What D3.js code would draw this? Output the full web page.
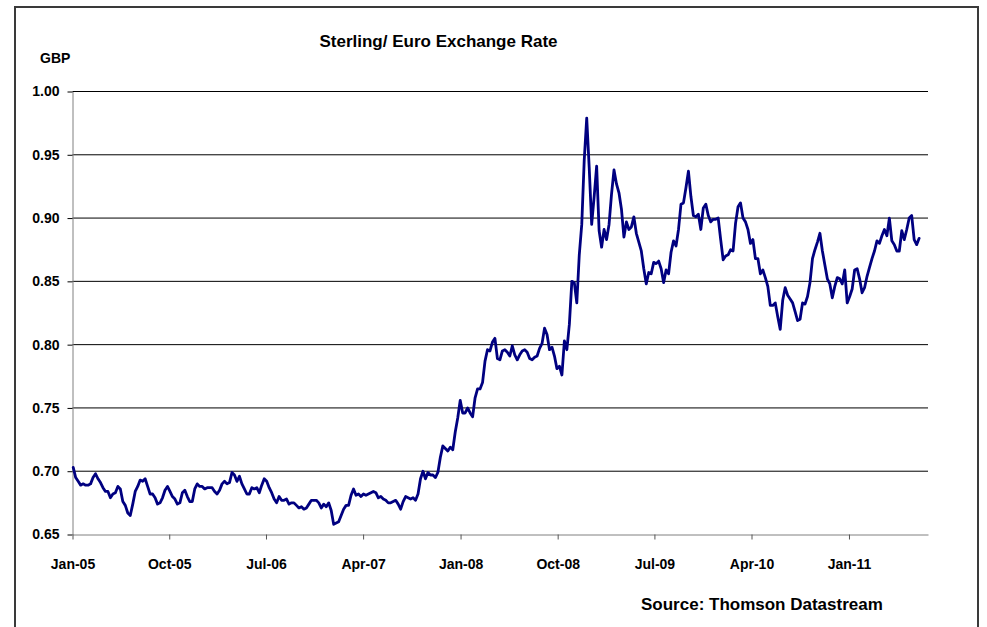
<!DOCTYPE html>
<html>
<head>
<meta charset="utf-8">
<title>Sterling/ Euro Exchange Rate</title>
<script src="https://cdn.jsdelivr.net/npm/d3@7"></script>
<style>
  html, body { margin: 0; padding: 0; background: #fff; }
  svg { display: block; font-family: "Liberation Sans", Arial, Helvetica, sans-serif; font-weight: bold; }
</style>
</head>
<body>
<svg id="chart" width="987" height="627"></svg>
<script>
// ---- data -------------------------------------------------------------
const chartTitle = "Sterling/ Euro Exchange Rate";
const unitLabel = "GBP";
const sourceNote = "Source: Thomson Datastream";

const axisStart = "2005-01-01";
const axisEnd = "2011-08-12";
const firstWeek = "2005-01-03";   // weekly observations (Mondays) from here

const xTickLabels = ["Jan-05", "Oct-05", "Jul-06", "Apr-07", "Jan-08", "Oct-08", "Jul-09", "Apr-10", "Jan-11"];
const yTickValues = [0.65, 0.70, 0.75, 0.80, 0.85, 0.90, 0.95, 1.00];

// GBP per EUR, weekly
const gbpPerEur = [
  0.703, 0.695, 0.692, 0.689, 0.690, 0.689, 0.689, 0.690, 0.695, 0.698,
  0.694, 0.691, 0.687, 0.684, 0.684, 0.679, 0.682, 0.683, 0.688, 0.686,
  0.676, 0.673, 0.667, 0.665, 0.674, 0.684, 0.688, 0.693, 0.692, 0.694,
  0.688, 0.682, 0.682, 0.679, 0.674, 0.675, 0.679, 0.685, 0.688, 0.684,
  0.680, 0.678, 0.674, 0.675, 0.683, 0.685, 0.680, 0.676, 0.676, 0.686,
  0.690, 0.688, 0.688, 0.686, 0.687, 0.687, 0.687, 0.684, 0.682, 0.685,
  0.690, 0.692, 0.690,
  0.691, 0.699, 0.697, 0.692, 0.696, 0.690, 0.686, 0.682,
  0.682, 0.687, 0.686, 0.687, 0.683, 0.689, 0.694, 0.692, 0.687, 0.683,
  0.678, 0.675, 0.680, 0.677, 0.677, 0.678, 0.674, 0.675, 0.675, 0.673,
  0.671, 0.672, 0.670, 0.671, 0.674, 0.677, 0.677, 0.677, 0.675, 0.671,
  0.674, 0.672, 0.675, 0.669, 0.658, 0.659, 0.660, 0.665, 0.670, 0.673,
  0.673, 0.681, 0.686, 0.681, 0.682, 0.680, 0.682, 0.681, 0.682, 0.683,
  0.684, 0.683, 0.679, 0.680, 0.678, 0.677, 0.675, 0.675, 0.676, 0.677,
  0.674, 0.670, 0.676, 0.680, 0.679, 0.678, 0.679, 0.677, 0.682, 0.694,
  0.700, 0.694, 0.699, 0.697, 0.697, 0.695, 0.699, 0.711, 0.720, 0.718,
  0.716, 0.719, 0.717, 0.731, 0.742, 0.756, 0.746, 0.746, 0.750, 0.746,
  0.743, 0.758, 0.765, 0.765, 0.770, 0.787, 0.796, 0.795, 0.802, 0.805,
  0.789, 0.788, 0.795, 0.796, 0.794, 0.791, 0.799, 0.792, 0.788, 0.792,
  0.795, 0.796, 0.794, 0.789, 0.788, 0.790, 0.791, 0.797,
  0.801, 0.813, 0.808,
  0.796, 0.798, 0.791, 0.781, 0.783, 0.776, 0.803, 0.796, 0.816, 0.850,
  0.849, 0.833, 0.871, 0.895, 0.946, 0.979, 0.940, 0.895, 0.917, 0.941,
  0.890, 0.877, 0.891, 0.883, 0.895, 0.919, 0.938, 0.927, 0.920, 0.907,
  0.885, 0.897, 0.891, 0.893, 0.901, 0.888, 0.881, 0.874, 0.860, 0.848,
  0.857, 0.856, 0.865, 0.864, 0.866, 0.860, 0.849, 0.859, 0.856, 0.873,
  0.882, 0.878, 0.891, 0.911, 0.912, 0.924, 0.937, 0.917, 0.902, 0.901,
  0.903, 0.891, 0.908, 0.911, 0.902, 0.897, 0.899, 0.899, 0.900, 0.883,
  0.867, 0.870, 0.871, 0.875, 0.874, 0.896, 0.909, 0.912, 0.900, 0.897,
  0.891, 0.880, 0.883, 0.868, 0.868, 0.856, 0.859, 0.853, 0.846, 0.831,
  0.831, 0.833, 0.822, 0.812, 0.835, 0.845, 0.839, 0.836, 0.833, 0.826,
  0.819, 0.820, 0.833, 0.832, 0.838, 0.849, 0.868, 0.875, 0.881, 0.888,
  0.874, 0.863, 0.852, 0.848, 0.837, 0.846, 0.853, 0.852, 0.848, 0.859,
  0.833, 0.838,
  0.844, 0.859, 0.860, 0.852, 0.841, 0.845, 0.854, 0.861, 0.868,
  0.874, 0.882, 0.880, 0.886, 0.891, 0.886, 0.900, 0.882, 0.879, 0.874,
  0.874, 0.890, 0.883, 0.891, 0.900, 0.902, 0.883, 0.879, 0.884
];

// ---- setup ------------------------------------------------------------
const parseDay = d3.timeParse("%Y-%m-%d");
const parseTick = d3.timeParse("%b-%y");
const week0 = parseDay(firstWeek);
const series = gbpPerEur.map((v, i) => ({ date: d3.timeWeek.offset(week0, i), value: v }));
const xTicks = xTickLabels.map(parseTick);

const plot = { left: 72.5, right: 928, top: 91.5, bottom: 534.5 };

const x = d3.scaleTime()
  .domain([parseDay(axisStart), parseDay(axisEnd)])
  .range([plot.left, plot.right]);

const y = d3.scaleLinear()
  .domain([0.65, 1.00])
  .range([plot.bottom, plot.top]);

const svg = d3.select("#chart");

// outer frame
svg.append("rect")
  .attr("x", 15).attr("y", 7)
  .attr("width", 963).attr("height", 700)
  .attr("fill", "none")
  .attr("stroke", "#3a3a3a")
  .attr("stroke-width", 2);

// horizontal gridlines
svg.append("g")
  .selectAll("line")
  .data(yTickValues.filter(v => v > 0.65))
  .join("line")
  .attr("x1", plot.left).attr("x2", plot.right)
  .attr("y1", d => y(d)).attr("y2", d => y(d))
  .attr("stroke", "#000")
  .attr("stroke-width", 1);

// y axis
const yAxis = svg.append("g")
  .attr("transform", `translate(${plot.left},0)`)
  .call(d3.axisLeft(y)
    .tickValues(yTickValues)
    .tickFormat(d3.format(".2f"))
    .tickSizeInner(5)
    .tickSizeOuter(0)
    .tickPadding(8));
yAxis.select(".domain").attr("stroke", "#808080");
yAxis.selectAll(".tick line").attr("stroke", "#000");
yAxis.selectAll("text")
  .attr("fill", "#000")
  .style("font-size", "14px")
  .style("font-weight", "bold")
  .style("font-family", "'Liberation Sans', Arial, sans-serif");

// x axis
const xAxis = svg.append("g")
  .attr("transform", `translate(0,${plot.bottom})`)
  .call(d3.axisBottom(x)
    .tickValues(xTicks)
    .tickFormat(d3.timeFormat("%b-%y"))
    .tickSizeInner(5)
    .tickSizeOuter(0)
    .tickPadding(20));
xAxis.select(".domain").attr("stroke", "#808080");
xAxis.selectAll(".tick line").attr("stroke", "#555");
xAxis.selectAll("text")
  .attr("fill", "#000")
  .style("font-size", "14px")
  .style("font-weight", "bold")
  .style("font-family", "'Liberation Sans', Arial, sans-serif");

// exchange-rate line
svg.append("path")
  .datum(series)
  .attr("fill", "none")
  .attr("stroke", "#000080")
  .attr("stroke-width", 2.8)
  .attr("stroke-linejoin", "round")
  .attr("stroke-linecap", "round")
  .attr("d", d3.line().x(d => x(d.date)).y(d => y(d.value)));

// texts
svg.append("text")
  .attr("x", 438.5).attr("y", 47)
  .attr("text-anchor", "middle")
  .style("font-size", "17px")
  .text(chartTitle);

svg.append("text")
  .attr("x", 40).attr("y", 63)
  .style("font-size", "14px")
  .text(unitLabel);

svg.append("text")
  .attr("x", 641).attr("y", 610)
  .style("font-size", "17px")
  .text(sourceNote);
</script>
</body>
</html>
